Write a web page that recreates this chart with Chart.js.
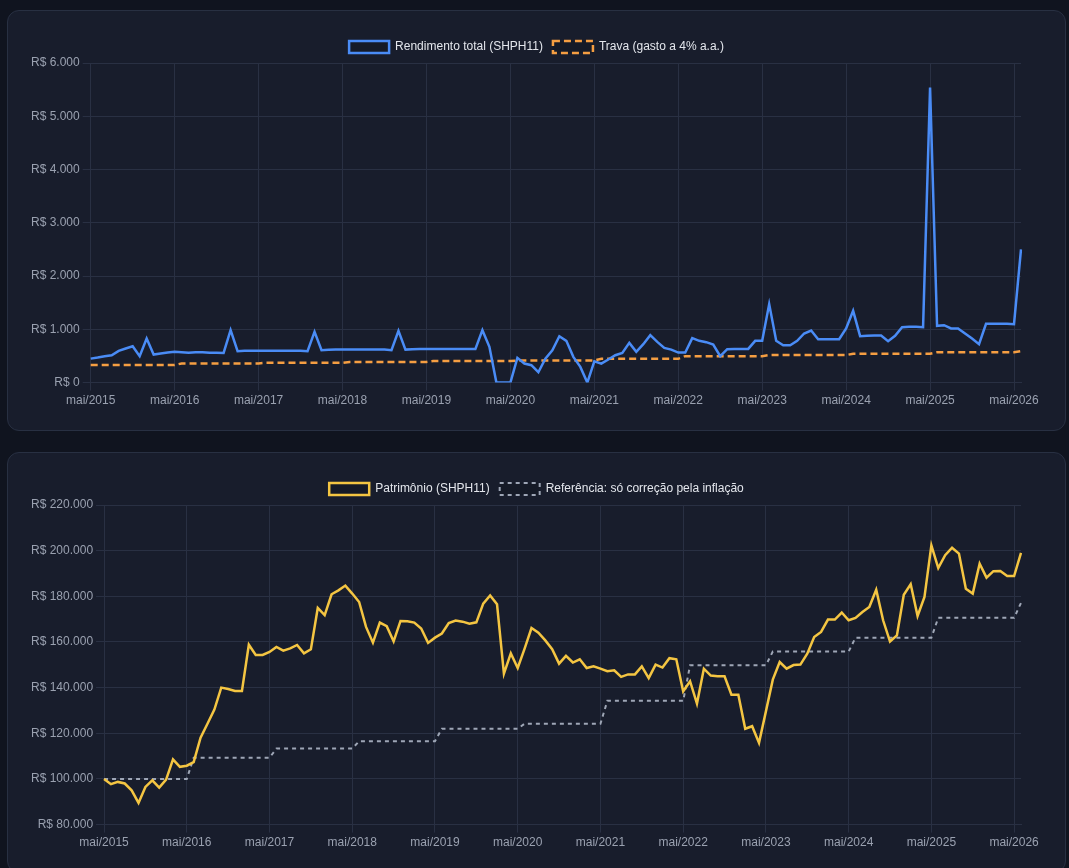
<!DOCTYPE html>
<html lang="pt-BR">
<head>
  <meta charset="UTF-8">
  <title>SHPH11 – rendimento e patrimônio</title>
  <script src="https://cdn.jsdelivr.net/npm/chart.js"></script>
  <style>
    body {
      margin: 0;
      background: #10141f;
      font-family: 'Helvetica Neue', Helvetica, Arial, sans-serif;
    }
    .card {
      position: absolute;
      left: 7px;
      width: 1057px;
      height: 419px;
      background: #181d2c;
      border: 1px solid #283042;
      border-radius: 12px;
      box-sizing: content-box;
    }
    .card .wrap {
      position: absolute;
      left: 20px;
      right: 20px;
      top: 20px;
      height: 380px;
    }
    #card1 { top: 10px; }
    #card2 { top: 452px; }
  </style>
</head>
<body>
  <div class="card" id="card1"><div class="wrap"><canvas id="rendaChart"></canvas></div></div>
  <div class="card" id="card2"><div class="wrap"><canvas id="patrimonioChart"></canvas></div></div>
  <script>
    // meses de mai/2015 a jun/2026
    const mesesNomes = ['jan','fev','mar','abr','mai','jun','jul','ago','set','out','nov','dez'];
    const labels = [];
    for (let i = 0; i < 134; i++) {
      const m = (4 + i) % 12;
      const ano = 2015 + Math.floor((4 + i) / 12);
      labels.push(mesesNomes[m] + '/' + ano);
    }

    // rendimento mensal total (R$)
    const rendimento = [
      450, 470, 495, 514, 596, 640, 683, 495, 828, 527, 545, 564,
      577, 572, 560, 572, 572, 562, 560, 558, 984, 589, 598, 600,
      600, 600, 600, 600, 600, 600, 600, 590, 953, 608, 618, 620,
      620, 620, 620, 620, 620, 620, 620, 608, 972, 620, 628, 633,
      633, 633, 633, 633, 633, 633, 633, 630, 984, 671, 0, 0,
      0, 464, 357, 326, 195, 451, 608, 871, 784, 483, 295, 0,
      401, 357, 433, 514, 558, 746, 577, 721, 890, 765, 652, 620,
      564, 564, 834, 784, 759, 715, 495, 627, 633, 633, 633, 784,
      784, 1473, 784, 702, 702, 784, 922, 978, 815, 815, 815, 815,
      1016, 1348, 871, 878, 884, 884, 777, 878, 1041, 1047, 1047, 1041,
      5540, 1066, 1078, 1016, 1016, 922, 828, 721, 1103, 1103, 1103, 1103,
      1097, 2500
    ];

    // trava: gasto de 4% a.a. (R$/mês)
    const trava = [
      330, 330, 330, 330, 330, 330, 330, 330, 330, 330, 330, 330,
      330, 360, 360, 360, 360, 360, 360, 360, 360, 360, 360, 360,
      360, 372, 372, 372, 372, 372, 372, 372, 372, 372, 372, 372,
      372, 388, 388, 388, 388, 388, 388, 388, 388, 388, 388, 388,
      388, 405, 405, 405, 405, 405, 405, 405, 405, 405, 405, 405,
      405, 414, 414, 414, 414, 414, 414, 414, 414, 414, 414, 414,
      414, 446, 446, 446, 446, 446, 446, 446, 446, 446, 446, 446,
      446, 497, 497, 497, 497, 497, 497, 497, 497, 497, 497, 497,
      497, 517, 517, 517, 517, 517, 517, 517, 517, 517, 517, 517,
      517, 542, 542, 542, 542, 542, 542, 542, 542, 542, 542, 542,
      542, 570, 570, 570, 570, 570, 570, 570, 570, 570, 570, 570,
      570, 592
    ];

    // patrimônio (R$)
    const patrimonio = [
      100000, 97700, 98700, 98000, 95000, 89500, 96500, 99400, 96200, 99700, 108600, 105300,
      105800, 107400, 118100, 124200, 130400, 140000, 139400, 138500, 138500, 158800, 154300, 154300,
      155600, 157800, 156200, 157200, 158700, 155000, 156800, 174900, 171800, 180900, 182600, 184700,
      181200, 177500, 166600, 159700, 168500, 166900, 160300, 169200, 169100, 168500, 165900, 159600,
      161900, 163700, 168300, 169400, 168900, 168000, 168600, 176800, 180400, 176500, 146100, 155000,
      148600, 157100, 166100, 164100, 160700, 156800, 150500, 153900, 151000, 152400, 148600, 149300,
      148300, 147200, 147600, 144700, 145800, 145800, 149300, 144200, 150100, 148800, 152900, 152400,
      138400, 142800, 133000, 148300, 145300, 145000, 145000, 136900, 136900, 122000, 123100, 115800,
      129600, 143500, 151200, 148300, 149900, 150100, 154900, 162200, 164400, 169800, 169800, 172900,
      169500, 170500, 173100, 175300, 182900, 169500, 160200, 162900, 180700, 185300, 171400, 179700,
      202300, 192400, 198000, 201300, 198700, 183300, 181200, 194300, 188200, 191000, 191100, 188900,
      188900, 199000
    ];

    // referência: só correção pela inflação (R$)
    const referencia = [
      100000, 100000, 100000, 100000, 100000, 100000, 100000, 100000, 100000, 100000, 100000, 100000,
      100000, 109300, 109300, 109300, 109300, 109300, 109300, 109300, 109300, 109300, 109300, 109300,
      109300, 113300, 113300, 113300, 113300, 113300, 113300, 113300, 113300, 113300, 113300, 113300,
      113300, 116500, 116500, 116500, 116500, 116500, 116500, 116500, 116500, 116500, 116500, 116500,
      116500, 122000, 122000, 122000, 122000, 122000, 122000, 122000, 122000, 122000, 122000, 122000,
      122000, 124200, 124200, 124200, 124200, 124200, 124200, 124200, 124200, 124200, 124200, 124200,
      124200, 134200, 134200, 134200, 134200, 134200, 134200, 134200, 134200, 134200, 134200, 134200,
      134200, 149800, 149800, 149800, 149800, 149800, 149800, 149800, 149800, 149800, 149800, 149800,
      149800, 155800, 155800, 155800, 155800, 155800, 155800, 155800, 155800, 155800, 155800, 155800,
      155800, 161900, 161900, 161900, 161900, 161900, 161900, 161900, 161900, 161900, 161900, 161900,
      161900, 170600, 170600, 170600, 170600, 170600, 170600, 170600, 170600, 170600, 170600, 170600,
      170600, 177100
    ];

    function brl(v) {
      return 'R$ ' + String(Math.round(v)).replace(/\B(?=(\d{3})+(?!\d))/g, '.');
    }

    const gridColor = '#293043';
    const tickColor = '#9aa1b0';

    function baseOptions(min, max, step) {
      return {
        responsive: true,
        maintainAspectRatio: false,
        animation: false,
        plugins: {
          legend: {
            labels: { color: '#e3e6ec', font: { size: 12 }, boxWidth: 40, boxHeight: 12 }
          },
          tooltip: { enabled: false }
        },
        elements: { point: { radius: 0 } },
        scales: {
          x: {
            grid: { color: gridColor },
            border: { color: gridColor },
            // espaço à direita como o do último rótulo
            afterFit: s => { s.paddingRight = 24; },
            ticks: {
              color: tickColor,
              font: { size: 12 },
              autoSkip: false,
              maxRotation: 0,
              callback: function (val, i) {
                return i % 12 === 0 ? labels[i] : null;
              }
            }
          },
          y: {
            min: min,
            max: max,
            grid: { color: gridColor },
            border: { color: gridColor },
            ticks: {
              color: tickColor,
              font: { size: 12 },
              stepSize: step,
              callback: v => brl(v)
            }
          }
        }
      };
    }

    new Chart(document.getElementById('rendaChart').getContext('2d'), {
      type: 'line',
      data: {
        labels: labels,
        datasets: [{
          label: 'Rendimento total (SHPH11)',
          data: rendimento,
          borderColor: '#4a8cf6',
          backgroundColor: 'rgba(0,0,0,0.1)',
          borderWidth: 2.5,
          tension: 0
        }, {
          label: 'Trava (gasto a 4% a.a.)',
          data: trava,
          borderColor: '#f59e42',
          backgroundColor: 'rgba(0,0,0,0.1)',
          borderWidth: 2.5,
          borderDash: [7, 4],
          tension: 0
        }]
      },
      options: baseOptions(0, 6000, 1000)
    });

    new Chart(document.getElementById('patrimonioChart').getContext('2d'), {
      type: 'line',
      data: {
        labels: labels,
        datasets: [{
          label: 'Patrimônio (SHPH11)',
          data: patrimonio,
          borderColor: '#f4c542',
          backgroundColor: 'rgba(0,0,0,0.1)',
          borderWidth: 2.5,
          tension: 0
        }, {
          label: 'Referência: só correção pela inflação',
          data: referencia,
          borderColor: '#9ea6b6',
          backgroundColor: 'rgba(0,0,0,0.1)',
          borderWidth: 2,
          borderDash: [4, 4],
          tension: 0
        }]
      },
      options: baseOptions(80000, 220000, 20000)
    });
  </script>
</body>
</html>
